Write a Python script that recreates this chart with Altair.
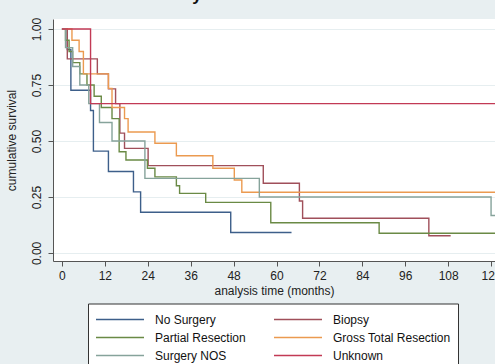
import altair as alt
import pandas as pd

# legend order is column-major in Vega: col 1 then col 2
groups = ["No Surgery", "Partial Resection", "Surgery NOS", "Biopsy", "Gross Total Resection", "Unknown"]
colors = ["#3d5f8a", "#6a8a45", "#86a39b", "#a04f5a", "#eb9a50", "#c23a55"]

no_surgery_t = [0, 1.5, 2.5, 8, 8.8, 13, 20, 22, 47.2, 64.2]
no_surgery_s = [1, 0.909, 0.727, 0.636, 0.455, 0.364, 0.273, 0.182, 0.091, 0.091]

biopsy_t = [0, 1.5, 9.9, 13, 15, 16.2, 17.5, 24.1, 56.3, 66.4, 67.3, 102.6, 108.7]
biopsy_s = [1, 0.867, 0.80, 0.733, 0.667, 0.535, 0.467, 0.39, 0.311, 0.232, 0.155, 0.077, 0.077]

partial_t = [0, 1, 2, 3, 5, 7, 9, 11, 14, 16, 17.9, 23.9, 26, 32, 32.9, 40.2, 58.4, 88.7, 121.5]
partial_s = [1, 0.95, 0.90, 0.85, 0.80, 0.75, 0.70, 0.65, 0.60, 0.452, 0.415, 0.378, 0.34, 0.30, 0.266, 0.226, 0.135, 0.088, 0.088]

gtr_t = [0, 2.8, 4.8, 6, 13, 14, 17.5, 18.5, 26, 32, 42.2, 48.2, 50.3, 121.5]
gtr_s = [1, 0.95, 0.90, 0.80, 0.735, 0.65, 0.60, 0.54, 0.49, 0.434, 0.378, 0.326, 0.271, 0.271]

nos_t = [0, 1, 3, 5, 7.5, 10.5, 14, 23.2, 55.2, 120, 121.5]
nos_s = [1, 0.917, 0.833, 0.75, 0.667, 0.583, 0.5, 0.333, 0.25, 0.167, 0.167]

unknown_t = [0, 8, 121.5]
unknown_s = [1, 0.667, 0.667]

series = [
    ("No Surgery", no_surgery_t, no_surgery_s),
    ("Biopsy", biopsy_t, biopsy_s),
    ("Partial Resection", partial_t, partial_s),
    ("Gross Total Resection", gtr_t, gtr_s),
    ("Surgery NOS", nos_t, nos_s),
    ("Unknown", unknown_t, unknown_s),
]

rows = []
for name, ts, ss in series:
    for t, s in zip(ts, ss):
        rows.append({"group": name, "t": t, "s": s})
df = pd.DataFrame(rows)

x_ticks = list(range(0, 121, 12))
y_ticks = [0, 0.25, 0.5, 0.75, 1.0]

lines = alt.Chart(df).mark_line(interpolate="step-after", strokeWidth=1.4, clip=True).encode(
    x=alt.X("t:Q",
            scale=alt.Scale(domain=[-2.5, 121.1], nice=False, zero=False),
            axis=alt.Axis(values=x_ticks, title="analysis time (months)", grid=False,
                          labelFontSize=12, titleFontSize=12, titleFontWeight="normal",
                          labelColor="#222", titleColor="#222", domainColor="#555",
                          tickColor="#555", tickSize=5, labelPadding=4, titlePadding=4,
                          labelFont="Liberation Sans", titleFont="Liberation Sans")),
    y=alt.Y("s:Q",
            scale=alt.Scale(domain=[-0.036, 1.045], nice=False, zero=False),
            axis=alt.Axis(values=y_ticks, format=".2f", title="cumulative survival",
                          grid=True, gridColor="#e6eef0", gridWidth=1,
                          labelAngle=-90, labelAlign="center", labelBaseline="bottom",
                          labelFontSize=12, titleFontSize=12, titleFontWeight="normal",
                          labelColor="#222", titleColor="#222", domainColor="#555",
                          tickColor="#555", tickSize=5, labelPadding=5, titlePadding=12,
                          labelFont="Liberation Sans", titleFont="Liberation Sans")),
    color=alt.Color("group:N",
                    scale=alt.Scale(domain=groups, range=colors),
                    legend=alt.Legend(title=" ", titleOrient="bottom", titleFontSize=10,
                                      titlePadding=2,
                                      orient="none", legendX=35, legendY=284.5,
                                      columns=2, symbolType="M-1,0H5", symbolSize=256,
                                      symbolStrokeWidth=1.4, labelFontSize=12,
                                      labelFont="Liberation Sans", labelColor="#111",
                                      strokeColor="#333", fillColor="white",
                                      padding=7, rowPadding=3, columnPadding=25,
                                      labelOffset=42, labelLimit=300)),
    order=alt.Order("t:Q"),
)

# bottom of the (cropped) chart title peeking in at the top edge
title_frag = alt.Chart(pd.DataFrame({"txt": ["y"]})).mark_text(
    fontSize=17, fontWeight="bold", font="Liberation Sans", color="#111",
    baseline="alphabetic", align="center"
).encode(text="txt:N", x=alt.value(144), y=alt.value(-18.5))

chart = alt.layer(lines, title_frag).properties(
    width=442, height=242,
    autosize=alt.AutoSizeParams(type="none"),
    padding={"left": 53, "top": 19, "right": 0, "bottom": 103},
    background="#e8eff1",
).configure_view(fill="white", stroke=None)

chart.save("out.html", embed_options={"renderer": "svg", "actions": False})
